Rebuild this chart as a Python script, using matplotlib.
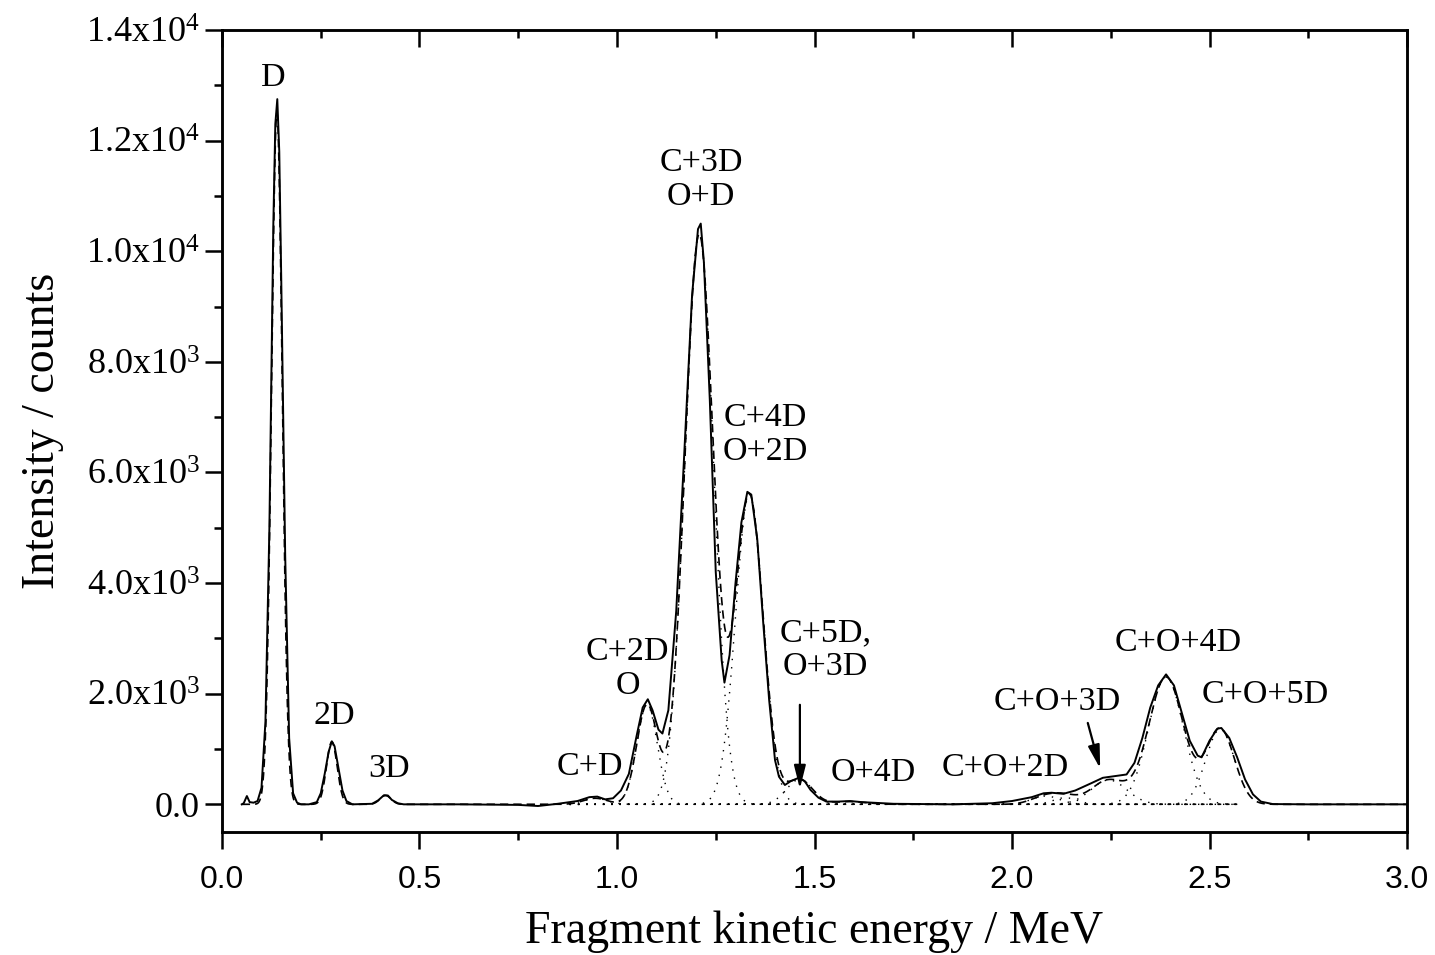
import numpy as np
import matplotlib
matplotlib.use('Agg')
import matplotlib.pyplot as plt
from matplotlib.ticker import MultipleLocator, FixedLocator, FuncFormatter

plt.rcParams['font.family'] = 'Liberation Serif'
plt.rcParams['mathtext.fontset'] = 'custom'
plt.rcParams['mathtext.rm'] = 'Liberation Serif'

energy = [0.050, 0.055, 0.063, 0.070, 0.080, 0.090, 0.100, 0.110, 0.120, 0.130,
          0.135, 0.140, 0.145, 0.150, 0.160, 0.170, 0.180, 0.190, 0.200, 0.220,
          0.240, 0.250, 0.260, 0.270, 0.278, 0.285, 0.295, 0.305, 0.315, 0.330,
          0.380, 0.395, 0.410, 0.420, 0.430, 0.445, 0.460, 0.600, 0.750, 0.800,
          0.850, 0.900, 0.930, 0.950, 0.970, 0.990, 1.010, 1.030, 1.050, 1.065,
          1.078, 1.090, 1.105, 1.115, 1.130, 1.150, 1.170, 1.190, 1.205, 1.212,
          1.220, 1.235, 1.250, 1.265, 1.272, 1.285, 1.300, 1.315, 1.330, 1.340,
          1.355, 1.370, 1.385, 1.400, 1.410, 1.425, 1.440, 1.460, 1.475, 1.490,
          1.510, 1.530, 1.560, 1.590, 1.620, 1.700, 1.850, 1.950, 2.000, 2.050,
          2.080, 2.100, 2.130, 2.160, 2.200, 2.230, 2.260, 2.290, 2.310, 2.330,
          2.350, 2.370, 2.390, 2.410, 2.430, 2.450, 2.470, 2.480, 2.500, 2.520,
          2.530, 2.550, 2.570, 2.590, 2.610, 2.630, 2.660, 2.750, 3.000]
counts = [0, 20, 150, 40, 30, 60, 300, 1500, 5000, 10500,
          12300, 12750, 11800, 9500, 4500, 1200, 200, 30, 0, 0,
          40, 200, 550, 950, 1140, 1050, 650, 250, 60, 0,
          10, 70, 165, 160, 80, 20, 0, 0, -10, -30,
          10, 60, 130, 140, 90, 110, 250, 550, 1250, 1750,
          1900, 1700, 1350, 1280, 1700, 3500, 6300, 9200, 10400, 10500,
          9800, 7300, 4200, 2600, 2200, 2700, 4000, 5100, 5650, 5600,
          4800, 3300, 1900, 800, 500, 350, 420, 480, 420, 260,
          120, 50, 50, 60, 40, 10, 0, 20, 60, 130,
          200, 210, 190, 250, 380, 480, 510, 540, 750, 1200,
          1750, 2150, 2350, 2150, 1650, 1150, 880, 850, 1150, 1370,
          1380, 1200, 850, 450, 180, 50, 5, 0, 0]

# gaussian fit components (centre MeV, height counts, sigma MeV)
fit_centres = [0.139, 0.278, 0.414, 0.945, 1.076, 1.208, 1.335, 1.462, 1.590,
               2.085, 2.135, 2.245, 2.390, 2.527]
fit_heights = [12500, 1130, 160, 110, 1800, 10300, 5600, 450, 50,
               150, 120, 440, 2300, 1360]
fit_sigmas = [0.0135, 0.0135, 0.014, 0.03, 0.026, 0.036, 0.035, 0.033, 0.04,
              0.035, 0.03, 0.045, 0.044, 0.036]
shown_components = [3, 4, 5, 6, 7, 9, 10, 11, 12, 13]

labels = ['D', '2D', '3D', 'C+D', 'C+2D\nO', 'C+3D\nO+D', 'C+4D\nO+2D',
          'C+5D,\nO+3D', 'O+4D', 'C+O+2D', 'C+O+3D', 'C+O+4D', 'C+O+5D']
label_x = [0.129, 0.284, 0.422, 0.932, 1.027, 1.213, 1.375, 1.527, 1.648,
           1.982, 2.114, 2.42, 2.64]
label_y = [12860, 1330, 370, 400, 1870, 10710, 6090, 2210, 300,
           390, 1580, 2650, 1700]

ytick_vals = [0, 2000, 4000, 6000, 8000, 10000, 12000, 14000]
ytick_text = ['0.0', r'$\mathregular{2.0x10^3}$', r'$\mathregular{4.0x10^3}$',
              r'$\mathregular{6.0x10^3}$', r'$\mathregular{8.0x10^3}$',
              r'$\mathregular{1.0x10^4}$', r'$\mathregular{1.2x10^4}$',
              r'$\mathregular{1.4x10^4}$']


def gauss(x, c, h, s):
    return h * np.exp(-0.5 * ((x - c) / s) ** 2)


fig = plt.figure(figsize=(14.35, 9.55), dpi=100)
ax = fig.add_axes([0.1547, 0.1288, 0.8258, 0.8398])

xf = np.linspace(0.05, 3.0, 3000)
fit_sum = np.zeros_like(xf)
for c, h, s in zip(fit_centres, fit_heights, fit_sigmas):
    fit_sum += gauss(xf, c, h, s)

# individual components, dotted
xc = np.linspace(0.88, 2.57, 1500)
for i in shown_components:
    ax.plot(xc, gauss(xc, fit_centres[i], fit_heights[i], fit_sigmas[i]),
            color='black', lw=1.0, linestyle=(0, (1, 5)))

ax.plot(xf, fit_sum, color='black', lw=1.2, linestyle=(0, (5, 3)))
ax.plot(energy, counts, color='black', lw=1.4)

for t, x, y in zip(labels, label_x, label_y):
    ax.text(x, y, t, ha='center', va='bottom', fontsize=24.5, linespacing=1.15)

arrow = dict(arrowstyle='-|>,head_length=1.4,head_width=0.35',
             color='black', lw=1.6)
ax.annotate('', xy=(1.463, 230), xytext=(1.463, 1850), arrowprops=arrow)
ax.annotate('', xy=(2.225, 600), xytext=(2.19, 1520), arrowprops=arrow)

ax.set_xlim(0, 3.0)
ax.set_ylim(-500, 14000)
ax.xaxis.set_major_locator(MultipleLocator(0.5))
ax.xaxis.set_minor_locator(MultipleLocator(0.25))
ax.xaxis.set_major_formatter(FuncFormatter(lambda v, p: '%.1f' % v))
ax.yaxis.set_major_locator(FixedLocator(ytick_vals))
ax.yaxis.set_minor_locator(MultipleLocator(1000))
ax.set_yticklabels(ytick_text)

ax.tick_params(axis='both', which='major', direction='out', length=12,
               width=1.8, top=False, right=False)
ax.tick_params(axis='both', which='minor', direction='out', length=6,
               width=1.8, top=False, right=False)
ax.tick_params(axis='y', which='major', labelsize=26, pad=4)
ax.tick_params(axis='x', which='major', labelsize=23, pad=12,
               labelfontfamily='Liberation Sans')

# inward ticks along the top edge
top = ax.twiny()
top.set_xlim(ax.get_xlim())
top.xaxis.set_major_locator(MultipleLocator(0.5))
top.xaxis.set_minor_locator(MultipleLocator(0.25))
top.tick_params(which='major', direction='in', length=12, width=1.8,
                labeltop=False)
top.tick_params(which='minor', direction='in', length=6, width=1.8)

for a in (ax, top):
    for sp in a.spines.values():
        sp.set_linewidth(1.8)

ax.set_xlabel('Fragment kinetic energy / MeV', fontsize=33, labelpad=11)
ax.set_ylabel('Intensity / counts', fontsize=33, labelpad=16)

fig.savefig('out.png', dpi=100)
